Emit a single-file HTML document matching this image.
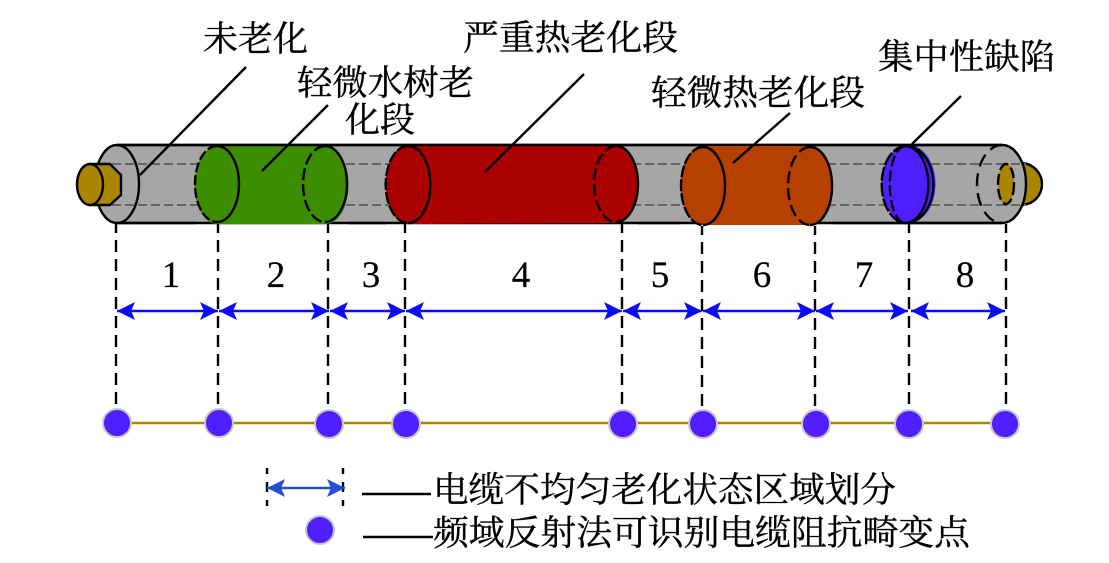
<!DOCTYPE html>
<html><head><meta charset="utf-8">
<style>html,body{margin:0;padding:0;background:#fff}svg{display:block}
text{font-family:"Liberation Serif","Noto Serif CJK SC",serif;fill:#000;stroke:#000;stroke-width:.35}
.c{font-size:35px}.n{font-size:37px;text-anchor:middle;stroke-width:.2}</style></head>
<body>
<svg width="1109" height="563" viewBox="0 0 1109 563" xmlns="http://www.w3.org/2000/svg">
<defs>
<marker id="a" markerUnits="userSpaceOnUse" viewBox="0 0 18 18" refX="18" refY="9" markerWidth="18" markerHeight="18" orient="auto-start-reverse"><path d="M0 0L18 9L0 18L4 9Z" fill="#0b0bf5"/></marker>
<marker id="b" markerUnits="userSpaceOnUse" viewBox="0 0 18 18" refX="18" refY="9" markerWidth="18" markerHeight="18" orient="auto-start-reverse"><path d="M0 0L18 9L0 18L4 9Z" fill="#2350d2"/></marker>
</defs>
<!-- cable body -->
<path d="M117 145H1002V223H117Z" fill="#a6a6a6"/>
<ellipse cx="117" cy="184" rx="22" ry="39" fill="#a6a6a6" stroke="#000" stroke-width="2.400"/>
<path d="M117 145H1002M117 223H1002" stroke="#000" stroke-width="2.600" fill="none"/>
<path d="M112 164H1010M112 205H1010" stroke="#666" stroke-width="2" stroke-dasharray="9 4" fill="none"/>
<!-- left conductor -->
<path d="M90 164H110L121 175V195L110 205H90Z" fill="#aa8500" stroke="#000" stroke-width="2.400"/>
<ellipse cx="90" cy="184.500" rx="13" ry="20.500" fill="#aa8500" stroke="#000" stroke-width="2.400"/>
<!-- right conductor -->
<path d="M1020 163C1034 163 1042 174 1042 184C1042 195 1034 205 1020 205Z" fill="#aa8500" stroke="#000" stroke-width="2.400"/>
<path d="M1002 145A24 39 0 0 1 1002 223Z" fill="#a6a6a6" stroke="none"/>
<path d="M1002 145A24 39 0 0 1 1002 223" fill="none" stroke="#000" stroke-width="2.400"/>
<path d="M1002 145A25 39 0 0 0 1002 223" fill="none" stroke="#000" stroke-width="2.400" stroke-dasharray="13 7"/>
<path d="M998 164H1026M998 205H1026" stroke="#666" stroke-width="2" stroke-dasharray="9 4" fill="none"/>
<ellipse cx="1006" cy="184" rx="8" ry="21" fill="#aa8500"/>
<ellipse cx="1006" cy="184" rx="8" ry="20" fill="none" stroke="#000" stroke-width="2.400" stroke-dasharray="11 4"/>
<!-- green -->
<path d="M217 146H326A22 38 0 0 1 326 224H217A22 38 0 0 1 217 146Z" fill="#3c8d00"/>
<path d="M217 146A22 38 0 0 1 217 222" fill="none" stroke="#000" stroke-width="2.400"/>
<path d="M217 146A22 38 0 0 0 217 222" fill="none" stroke="#000" stroke-width="2.400" stroke-dasharray="10 3"/>
<path d="M325 146A22 38 0 0 1 325 222" fill="none" stroke="#000" stroke-width="2.400"/>
<path d="M325 146A22 38 0 0 0 325 222" fill="none" stroke="#000" stroke-width="2.400" stroke-dasharray="12 4"/>
<!-- red -->
<path d="M408 145H616A22 39 0 0 1 616 223L408 224A22 39 0 0 1 408 145Z" fill="#aa0000"/>
<path d="M408 146A22 38 0 0 1 408 223" fill="none" stroke="#000" stroke-width="2.400"/>
<path d="M408 146A22 38 0 0 0 408 223" fill="none" stroke="#000" stroke-width="2.400" stroke-dasharray="12 2"/>
<path d="M616 146A22 38 0 0 1 616 222" fill="none" stroke="#000" stroke-width="2.400"/>
<path d="M616 146A22 38 0 0 0 616 222" fill="none" stroke="#000" stroke-width="2.400" stroke-dasharray="12 4"/>
<path d="M117 145H1002" stroke="#000" stroke-width="2.600" fill="none"/>
<path d="M117 223H195M348 223H386M638 223H680M833 223H1002" stroke="#000" stroke-width="2.600" fill="none"/>
<!-- orange -->
<path d="M703 146H811A22 39 0 0 1 811 225H703A22 39 0 0 1 703 146Z" fill="#b54000"/>
<path d="M703 147A22 39 0 0 1 703 225" fill="none" stroke="#000" stroke-width="2.400"/>
<path d="M703 147A22 39 0 0 0 703 225" fill="none" stroke="#000" stroke-width="2.400" stroke-dasharray="12 2"/>
<path d="M810 147A22 39 0 0 1 810 225" fill="none" stroke="#000" stroke-width="2.400"/>
<path d="M810 147A22 39 0 0 0 810 225" fill="none" stroke="#000" stroke-width="2.400" stroke-dasharray="12 5"/>
<!-- blue defect -->
<ellipse cx="908.500" cy="184" rx="27" ry="39" fill="#4f1fff"/>
<path d="M906 146A27 38 0 0 1 906 223" fill="none" stroke="#000" stroke-width="2.400"/>
<path d="M906 146A24 38 0 0 0 906 223" fill="none" stroke="#000" stroke-width="2.400" stroke-dasharray="14 2"/>
<path d="M905 146A23 38 0 0 1 905 223" fill="none" stroke="#000" stroke-width="2.400"/>
<path d="M905 146A15 38 0 0 0 905 223" fill="none" stroke="#000" stroke-width="2.400" stroke-dasharray="11 4"/>
<!-- leaders -->
<g stroke="#000" stroke-width="2.400" fill="none">
<path d="M140 175L246 67"/><path d="M262 171L328 105"/><path d="M485 172L584 74"/><path d="M733 163L790 113"/><path d="M912 144L961 96"/>
<path d="M267 468V507M343 468V507" stroke-dasharray="6 8 10 8 6"/>
<path d="M362 494H431M363 537H433"/>
</g>
<!-- drop lines -->
<g stroke="#000" stroke-width="2.400" stroke-dasharray="12 7" stroke-dashoffset="3">
<path d="M116 224V410M218 224V410M328 224V410M405 224V410M622 224V410M702 226V410M815 226V410M909 224V410M1006 224V410"/>
</g>
<!-- arrows -->
<g stroke="#0b0bf5" stroke-width="2.600">
<path d="M117 311H218" marker-start="url(#a)" marker-end="url(#a)"/>
<path d="M219 311H329" marker-start="url(#a)" marker-end="url(#a)"/>
<path d="M330 311H405" marker-start="url(#a)" marker-end="url(#a)"/>
<path d="M406 311H622" marker-start="url(#a)" marker-end="url(#a)"/>
<path d="M623 311H702" marker-start="url(#a)" marker-end="url(#a)"/>
<path d="M703 311H815" marker-start="url(#a)" marker-end="url(#a)"/>
<path d="M816 311H908" marker-start="url(#a)" marker-end="url(#a)"/>
<path d="M911 311H1005" marker-start="url(#a)" marker-end="url(#a)"/>
</g>
<path d="M267 488H345" stroke="#2350d2" stroke-width="2.600" marker-start="url(#b)" marker-end="url(#b)"/>
<!-- node line -->
<path d="M117 423H1005" stroke="#aa8500" stroke-width="2.600"/>
<g fill="#4f1fff" stroke="#c8c8c8" stroke-width="2">
<circle cx="117" cy="423" r="14"/><circle cx="219" cy="423" r="14"/><circle cx="329" cy="424" r="14"/><circle cx="406" cy="424" r="14"/><circle cx="623" cy="424" r="14"/><circle cx="703" cy="424" r="14"/><circle cx="816" cy="424" r="14"/><circle cx="909" cy="424" r="14"/><circle cx="1005" cy="424" r="14"/>
<circle cx="320" cy="530" r="14"/>
</g>
<!-- labels -->
<text class="c" x="203" y="51" textLength="105" lengthAdjust="spacingAndGlyphs">未老化</text>
<text class="c" x="297" y="95" textLength="177" lengthAdjust="spacingAndGlyphs">轻微水树老</text>
<text class="c" x="345" y="132" textLength="70" lengthAdjust="spacingAndGlyphs">化段</text>
<text class="c" x="463" y="50" textLength="215" lengthAdjust="spacingAndGlyphs">严重热老化段</text>
<text class="c" x="651" y="105" textLength="214" lengthAdjust="spacingAndGlyphs">轻微热老化段</text>
<text class="c" x="878" y="69" textLength="177" lengthAdjust="spacingAndGlyphs">集中性缺陷</text>
<text class="n" x="171" y="287">1</text><text class="n" x="276" y="287">2</text><text class="n" x="371" y="287">3</text><text class="n" x="521" y="287">4</text><text class="n" x="660" y="287">5</text><text class="n" x="762" y="287">6</text><text class="n" x="864" y="287">7</text><text class="n" x="965" y="287">8</text>
<text class="c" x="433" y="502" textLength="463" lengthAdjust="spacingAndGlyphs">电缆不均匀老化状态区域划分</text>
<text class="c" x="433" y="545" textLength="537" lengthAdjust="spacingAndGlyphs">频域反射法可识别电缆阻抗畸变点</text>
</svg>
</body></html>
